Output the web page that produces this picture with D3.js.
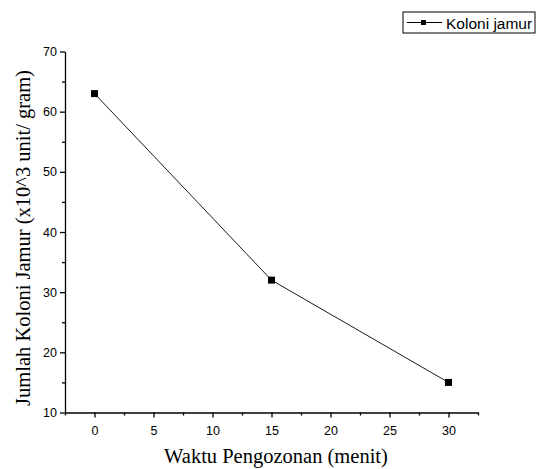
<!DOCTYPE html>
<html>
<head>
<meta charset="utf-8">
<script src="https://cdn.jsdelivr.net/npm/d3@7"></script>
<style>
  body { margin: 0; background: #fff; }
  .tick text { font-family: "Liberation Sans", Arial, sans-serif; font-size: 12.5px; fill: #000; }
  .title { font-family: "Liberation Serif", "Times New Roman", serif; font-size: 20.5px; fill: #000; }
  .legend-text { font-family: "Liberation Sans", Arial, sans-serif; font-size: 15.5px; fill: #000; }
</style>
</head>
<body>
<div id="chart"></div>
<script>
var width = 546, height = 469;

// data
var minutes = [0, 15, 30];
var colonies = [63, 32, 15];
var xTicks = [0, 5, 10, 15, 20, 25, 30];
var yTicks = [10, 20, 30, 40, 50, 60, 70];
var seriesName = "Koloni jamur";

var svg = d3.select("#chart").append("svg")
  .attr("width", width)
  .attr("height", height);

var x = d3.scaleLinear()
  .domain([-2.5, 32.5])
  .range([65, 478]);

var y = d3.scaleLinear()
  .domain([10, 70])
  .range([412.5, 51.5]);

// minor ticks
svg.append("g")
  .attr("transform", "translate(0,412.5)")
  .call(d3.axisBottom(x).tickValues(d3.range(-2.5, 33, 5)).tickSize(3).tickFormat(""))
  .call(function(g) { g.select(".domain").remove(); });

svg.append("g")
  .attr("transform", "translate(65,0)")
  .call(d3.axisLeft(y).tickValues(d3.range(15, 70, 10)).tickSize(3).tickFormat(""))
  .call(function(g) { g.select(".domain").remove(); });

// major axes
svg.append("g")
  .attr("transform", "translate(0,412.5)")
  .call(d3.axisBottom(x).tickValues(xTicks).tickSize(5).tickSizeOuter(0).tickPadding(9));

svg.append("g")
  .attr("transform", "translate(65,0)")
  .call(d3.axisLeft(y).tickValues(yTicks).tickSize(5).tickSizeOuter(0).tickPadding(3));

svg.selectAll(".domain, .tick line").attr("stroke", "#000").attr("stroke-width", 1.3);

// line + markers
var line = d3.line()
  .x(function(d, i) { return x(minutes[i]); })
  .y(function(d) { return y(d); });

svg.append("path")
  .datum(colonies)
  .attr("fill", "none")
  .attr("stroke", "#000")
  .attr("stroke-width", 0.9)
  .attr("d", line);

svg.selectAll(".marker")
  .data(colonies)
  .enter().append("rect")
    .attr("class", "marker")
    .attr("x", function(d, i) { return x(minutes[i]) - 3.5; })
    .attr("y", function(d) { return y(d) - 3.5; })
    .attr("width", 7)
    .attr("height", 7)
    .attr("fill", "#000");

// axis titles
svg.append("text")
  .attr("class", "title")
  .attr("x", 276)
  .attr("y", 463)
  .attr("text-anchor", "middle")
  .text("Waktu Pengozonan (menit)");

svg.append("text")
  .attr("class", "title")
  .attr("transform", "translate(30,238) rotate(-90)")
  .attr("text-anchor", "middle")
  .text("Jumlah Koloni Jamur (x10^3 unit/ gram)");

// legend
var legend = svg.append("g").attr("transform", "translate(403,12)");

legend.append("rect")
  .attr("width", 132)
  .attr("height", 21)
  .attr("fill", "#fff")
  .attr("stroke", "#000")
  .attr("stroke-width", 1);

legend.append("line")
  .attr("x1", 4).attr("x2", 39)
  .attr("y1", 10.5).attr("y2", 10.5)
  .attr("stroke", "#000");

legend.append("rect")
  .attr("x", 18).attr("y", 8)
  .attr("width", 5).attr("height", 5)
  .attr("fill", "#000");

legend.append("text")
  .attr("class", "legend-text")
  .attr("x", 43)
  .attr("y", 16.5)
  .text(seriesName);
</script>
</body>
</html>
